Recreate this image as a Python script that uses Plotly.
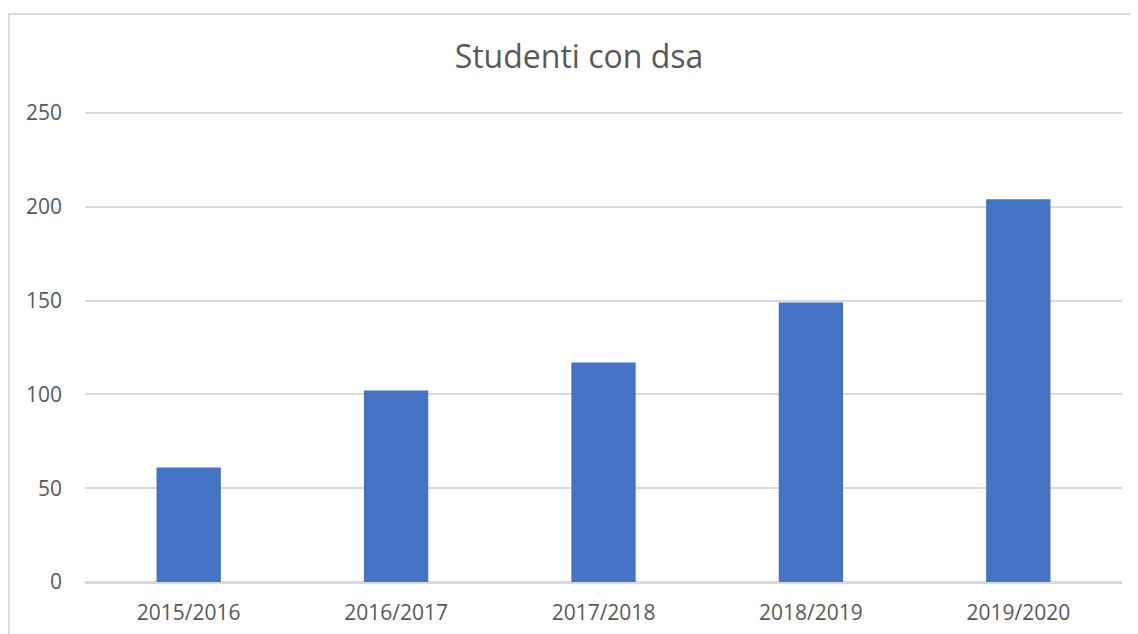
import plotly.graph_objects as go

categories = ["2015/2016", "2016/2017", "2017/2018", "2018/2019", "2019/2020"]
values = [61, 102, 117, 149, 204]
y_ticks = [0, 50, 100, 150, 200, 250]

# the page body adds an 8px margin, so the figure is sized/placed accordingly
W, H = 1130, 626
L, R, T, B = 77.3, 15.7, 103.1, 51.7
pw = W - L - R
ph = H - T - B

font_family = "Open Sans, Lato, sans-serif"
txt = "#595959"
grid = "#D9D9D9"

fig = go.Figure(go.Bar(
    x=categories, y=values,
    marker=dict(color="#4472C4", line=dict(width=0)),
))

fig.update_layout(
    width=W, height=H, autosize=False,
    margin=dict(l=L, r=R, t=T, b=B, pad=0, autoexpand=False),
    paper_bgcolor="white", plot_bgcolor="white",
    bargap=0.69,
    showlegend=False,
    title=dict(text="Studenti con dsa", x=571 / W, xanchor="center", xref="container",
               y=1 - 49 / H, yanchor="middle", yref="container",
               font=dict(family=font_family, size=32, color=txt)),
    font=dict(family=font_family, color=txt),
    xaxis=dict(showgrid=False, showline=False, zeroline=False, automargin=False,
               tickfont=dict(size=21, color=txt), ticks="", ticklabelstandoff=16),
    yaxis=dict(range=[0, 251], tickvals=y_ticks, showgrid=True, gridcolor=grid, gridwidth=1.8,
               zeroline=True, zerolinecolor=grid, zerolinewidth=2.5, showline=False,
               automargin=False,
               tickfont=dict(size=21, color=txt), ticks="", ticklabelstandoff=22),
    shapes=[dict(type="rect", xref="paper", yref="paper",
                 x0=(1 - L) / pw, x1=1.2,
                 y0=-0.3, y1=(H - B - 6) / ph,
                 line=dict(color=grid, width=2), fillcolor="rgba(0,0,0,0)", layer="below")],
)

fig.write_html("out.html")
